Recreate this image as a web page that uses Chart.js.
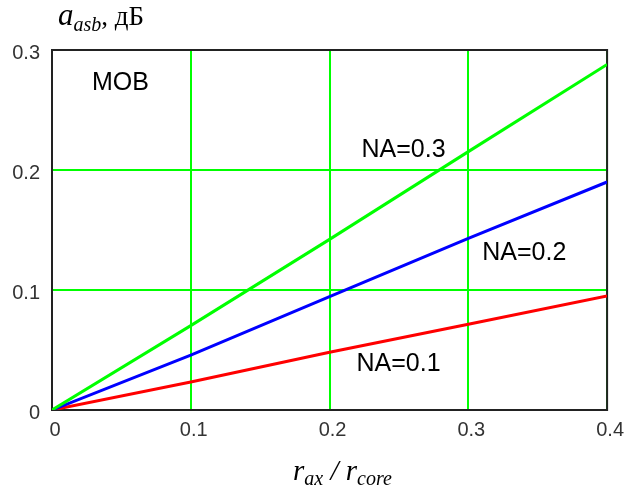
<!DOCTYPE html>
<html>
<head>
<meta charset="utf-8">
<script src="https://cdn.jsdelivr.net/npm/chart.js@4.4.1/dist/chart.umd.min.js"></script>
<style>
  html, body { margin: 0; padding: 0; background: #fff; }
  #wrap { width: 629px; height: 491px; }
</style>
</head>
<body>
<div id="wrap"><canvas id="lossChart" width="629" height="491"></canvas></div>
<script>
// values
const ratio = [0, 0.1, 0.2, 0.3, 0.4];          // r_ax / r_core
const lossNA03 = [0, 0.0703, 0.1422, 0.2153, 0.288];
const lossNA02 = [0, 0.0458, 0.0944, 0.1431, 0.190];
const lossNA01 = [0, 0.0233, 0.0481, 0.0714, 0.095];

const xTickLabels = ['0', '0.1', '0.2', '0.3', '0.4'];
const yTickLabels = ['0', '0.1', '0.2', '0.3'];

// text notes inside the plot (data coords: left edge, baseline)
const notes = [
    { text: 'МОВ',    x: 0.0288, y: 0.2667 },
    { text: 'NA=0.3', x: 0.223,  y: 0.2108 },
    { text: 'NA=0.2', x: 0.310,  y: 0.125 },
    { text: 'NA=0.1', x: 0.2194, y: 0.0325 }
];

const toPoints = (ys) => ratio.map((x, i) => ({ x: x, y: ys[i] }));

// frame + notes + axis titles (with subscripts)
const decorPlugin = {
    id: 'decor',
    beforeDatasetsDraw(chart) {
        const { ctx, chartArea: a } = chart;
        ctx.save();
        ctx.strokeStyle = '#222';
        ctx.lineWidth = 2;
        ctx.strokeRect(a.left, a.top, a.right - a.left, a.bottom - a.top);
        ctx.restore();
    },
    afterDraw(chart) {
        const { ctx, chartArea: a, scales } = chart;
        ctx.save();
        ctx.fillStyle = '#000';
        ctx.textBaseline = 'alphabetic';
        ctx.textAlign = 'left';

        ctx.font = '25px "Liberation Sans", Arial, sans-serif';
        notes.forEach(n => {
            ctx.fillText(n.text, scales.x.getPixelForValue(n.x), scales.y.getPixelForValue(n.y));
        });

        // y title: a_asb, дБ
        let x = a.left + 6;
        const yb = a.top - 25;
        ctx.font = 'italic 31px "Liberation Serif", "Times New Roman", serif';
        ctx.fillText('a', x, yb);
        x += ctx.measureText('a').width;
        ctx.font = 'italic 20px "Liberation Serif", "Times New Roman", serif';
        ctx.fillText('asb', x, yb + 6);
        x += ctx.measureText('asb').width;
        ctx.font = '27px "Liberation Serif", "Times New Roman", serif';
        ctx.fillText(', дБ', x, yb);

        // x title: r_ax / r_core
        x = a.left + 241;
        const xb = 480;
        ctx.font = 'italic 29px "Liberation Serif", "Times New Roman", serif';
        ctx.fillText('r', x, xb);
        x += ctx.measureText('r').width;
        ctx.font = 'italic 20px "Liberation Serif", "Times New Roman", serif';
        ctx.fillText('ax', x, xb + 5);
        x += ctx.measureText('ax').width;
        ctx.font = 'italic 29px "Liberation Serif", "Times New Roman", serif';
        ctx.fillText(' / r', x, xb);
        x += ctx.measureText(' / r').width;
        ctx.font = 'italic 20px "Liberation Serif", "Times New Roman", serif';
        ctx.fillText('core', x, xb + 5);
        ctx.restore();
    }
};

const tickFont = { family: '"Liberation Sans", Arial, sans-serif', size: 20 };

new Chart(document.getElementById('lossChart'), {
    type: 'line',
    data: {
        datasets: [
            { label: 'NA=0.3', data: toPoints(lossNA03), borderColor: '#00ff00' },
            { label: 'NA=0.2', data: toPoints(lossNA02), borderColor: '#0000ff' },
            { label: 'NA=0.1', data: toPoints(lossNA01), borderColor: '#ff0000' }
        ]
    },
    options: {
        responsive: false,
        animation: false,
        layout: { padding: { top: 50, right: 21, left: 0, bottom: 0 } },
        elements: {
            line: { borderWidth: 3, tension: 0 },
            point: { radius: 0 }
        },
        plugins: {
            legend: { display: false },
            tooltip: { enabled: false }
        },
        scales: {
            x: {
                type: 'linear',
                min: 0,
                max: 0.4,
                afterFit: (s) => { s.height = 81; },
                afterBuildTicks: (s) => { s.ticks = ratio.map(v => ({ value: v })); },
                ticks: {
                    color: '#333',
                    font: tickFont,
                    padding: 8,
                    labelOffset: 3,
                    maxRotation: 0,
                    callback: (v, i) => xTickLabels[i]
                },
                grid: { color: '#00ff00', lineWidth: 2, drawTicks: false, tickLength: 0 },
                border: { display: false }
            },
            y: {
                min: 0,
                max: 0.3,
                afterFit: (s) => { s.width = 52; },
                afterBuildTicks: (s) => { s.ticks = [0, 0.1, 0.2, 0.3].map(v => ({ value: v })); },
                ticks: {
                    color: '#333',
                    font: tickFont,
                    padding: 12,
                    labelOffset: 3,
                    callback: (v, i) => yTickLabels[i]
                },
                grid: { color: '#00ff00', lineWidth: 2, drawTicks: false, tickLength: 0 },
                border: { display: false }
            }
        }
    },
    plugins: [decorPlugin]
});
</script>
</body>
</html>
